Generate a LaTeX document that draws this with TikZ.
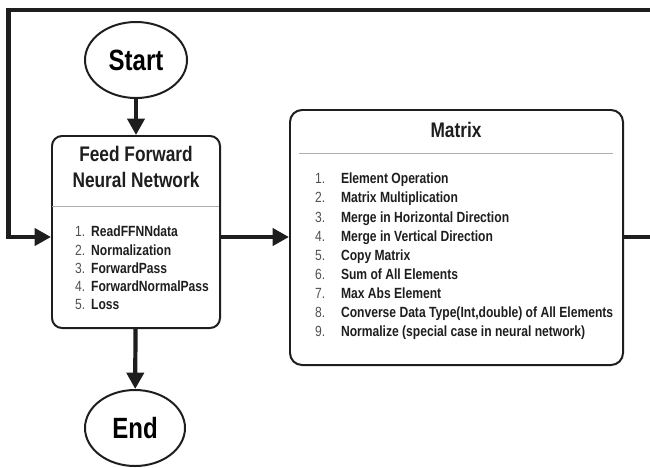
\documentclass[tikz,border=0pt]{standalone}
\usepackage{fontspec}
\setmainfont{Liberation Sans}[FakeStretch=0.82]
\usetikzlibrary{arrows.meta, positioning, shapes.geometric}
\definecolor{fcline}{RGB}{30,30,30}
\definecolor{fcsep}{RGB}{175,175,175}
\definecolor{fcnum}{RGB}{80,80,80}
% numbered entry: box width, number, text
\newcommand{\itm}[3]{\makebox[#1][l]{\mdseries\color{fcnum}#2.}#3}

\begin{document}
\begin{tikzpicture}[x=0.03cm, y=-0.03cm, font=\bfseries,
  term/.style={ellipse, draw=fcline, line width=1.7pt, minimum width=3.06cm,
               minimum height=2.28cm, font=\fontsize{25}{30}\selectfont\bfseries},
  box/.style={rectangle, rounded corners=0.3cm, draw=fcline, line width=1.7pt},
  ttl/.style={align=center, text=fcline, font=\fontsize{18}{22}\selectfont\bfseries},
  lst/.style={align=left, anchor=north west, inner sep=0pt, text=fcline},
  sep/.style={fcsep, line width=0.8pt},
  flow/.style={-{Triangle[width=14.5pt, length=14pt]}, line width=3.6pt, fcline}]
  \useasboundingbox (0,0) rectangle (650,467);

  % Terminals
  \node[term] (start) at (136,60) {Start};
  \node[term, minimum width=3.0cm] (end) at (135,428) {End};

  % Feed forward network box
  \node[box, minimum width=5.04cm, minimum height=5.76cm] (ffnn) at (136,232) {};
  \node[ttl] (ffnnt) at (136,167) {Feed Forward\\Neural Network};
  \coordinate (fsep) at (136,206);
  \draw[sep] ([xshift=1pt]ffnn.west |- fsep) -- ([xshift=-2pt]ffnn.east |- fsep);
  \node[lst, font=\fontsize{12.6}{15.5}\selectfont\bfseries] (ffnnl) at (75,226) {%
    \itm{13.6pt}{1}{ReadFFNNdata}\\
    \itm{13.6pt}{2}{Normalization}\\
    \itm{13.6pt}{3}{ForwardPass}\\
    \itm{13.6pt}{4}{ForwardNormalPass}\\
    \itm{13.6pt}{5}{Loss}};

  % Matrix box
  \node[box, rounded corners=0.36cm, minimum width=9.99cm, minimum height=7.65cm] (mat) at (456.5,237.5) {};
  \node[ttl] (matt) at (456,130) {Matrix};
  \coordinate (msep) at (456,153);
  \draw[sep] ([xshift=0.3cm]mat.west |- msep) -- ([xshift=-0.33cm]mat.east |- msep);
  \node[lst, font=\fontsize{12.6}{16.25}\selectfont\bfseries] (matl) at (315,173) {%
    \itm{22pt}{1}{Element Operation}\\
    \itm{22pt}{2}{Matrix Multiplication}\\
    \itm{22pt}{3}{Merge in Horizontal Direction}\\
    \itm{22pt}{4}{Merge in Vertical Direction}\\
    \itm{22pt}{5}{Copy Matrix}\\
    \itm{22pt}{6}{Sum of All Elements}\\
    \itm{22pt}{7}{Max Abs Element}\\
    \itm{22pt}{8}{Converse Data Type(Int,double) of All Elements}\\
    \itm{22pt}{9}{Normalize (special case in neural network)}};

  % Flow
  \coordinate (row) at (0,237);
  \coordinate (loopr) at (665,237);
  \coordinate (looptr) at (665,10);
  \coordinate (looptl) at (8.5,10);
  \coordinate (loopbl) at (8.5,237);
  \draw[flow] (start) -- (ffnn);
  \draw[flow] (ffnn) -- (end);
  \draw[flow] (ffnn.east |- row) -- (mat.west |- row);
  \draw[flow, line join=miter] (mat.east |- row) -- (loopr) -- (looptr) -- (looptl)
    -- (loopbl) -- (ffnn.west |- row);
\end{tikzpicture}
\end{document}
